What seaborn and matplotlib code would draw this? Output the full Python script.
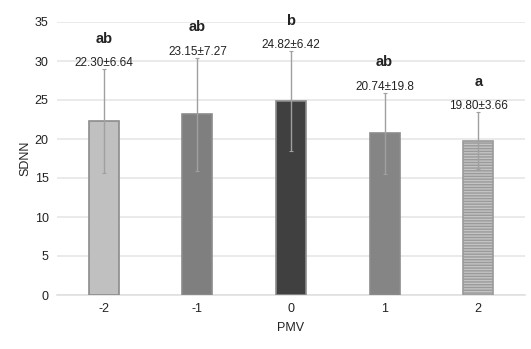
import matplotlib
matplotlib.use("Agg")
import matplotlib.pyplot as plt
import seaborn as sns
import pandas as pd

categories = ["-2", "-1", "0", "1", "2"]
means = [22.30, 23.15, 24.82, 20.74, 19.80]
errors = [6.64, 7.27, 6.42, 5.2, 3.66]
value_labels = ["22.30±6.64", "23.15±7.27", "24.82±6.42", "20.74±19.8", "19.80±3.66"]
letters = ["ab", "ab", "b", "ab", "a"]

bar_colors = ["#c0c0c0", "#7f7f7f", "#404040", "#858585", "#c4c4c4"]
hatches = ["", "", "", "", "------"]

sns.set_theme(style="white")
plt.rcParams["font.family"] = ["Liberation Sans", "DejaVu Sans"]

df = pd.DataFrame({"PMV": categories, "SDNN": means})

fig = plt.figure(figsize=(5.31, 3.49), dpi=100)
ax = fig.add_axes([57/531, 1 - 295/349, (525-57)/531, (295-22)/349])

sns.barplot(data=df, x="PMV", y="SDNN", order=categories, palette=bar_colors,
            hue="PMV", legend=False, width=0.32, ax=ax, saturation=1,
            edgecolor="#8c8c8c", linewidth=1.2, zorder=3)

for i, p in enumerate(ax.patches):
    if hatches[i]:
        p.set_hatch(hatches[i])
        p.set_edgecolor("#9a9a9a")

ax.errorbar(range(len(categories)), means, yerr=errors, fmt="none",
            ecolor="#a0a0a0", elinewidth=1.0, capsize=1.5, capthick=0.8, zorder=4)

for i in range(len(categories)):
    top = means[i] + errors[i]
    ax.text(i, top + 0.0, value_labels[i], ha="center", va="bottom", fontsize=8.5, color="#222222")
    ax.text(i, top + 3.0, letters[i], ha="center", va="bottom", fontsize=10.5,
            fontweight="bold", color="#222222")

ax.set_ylim(0, 35)
ax.set_xlim(-0.5, 4.5)
ax.set_yticks(range(0, 36, 5))
ax.yaxis.grid(True, color="#e6e6e6", linewidth=1.2, zorder=0)
ax.set_axisbelow(True)
for s in ["top", "right", "left"]:
    ax.spines[s].set_visible(False)
ax.spines["bottom"].set_color("#e0e0e0")
ax.spines["bottom"].set_linewidth(1.2)
ax.tick_params(axis="both", length=0, labelsize=9, colors="#222222", pad=6)
ax.set_ylabel("SDNN", fontsize=9, color="#222222", labelpad=2)
ax.set_xlabel("PMV", fontsize=9, color="#222222", labelpad=5)

fig.savefig("out.png", dpi=100)
